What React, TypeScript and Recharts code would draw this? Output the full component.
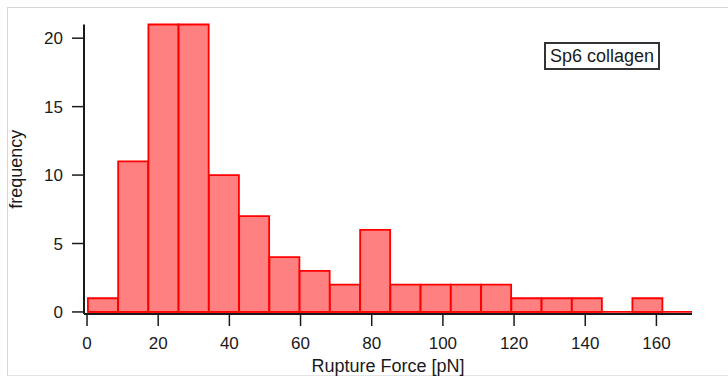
import { Bar, BarChart, ReferenceLine, XAxis, YAxis } from 'recharts';

// histogram bins (pN): bin centres, bin width 8.5
const binCenters = [
  4.5, 13, 21.5, 30, 38.5, 47, 55.5, 64, 72.5, 81, 89.5, 98, 106.5, 115, 123.5, 132, 140.5, 149, 157.5, 166,
];
const counts = [1, 11, 21, 21, 10, 7, 4, 3, 2, 6, 2, 2, 2, 2, 1, 1, 1, 0, 1, 0];
const xTicks = [0, 20, 40, 60, 80, 100, 120, 140, 160];
const yTicks = [0, 5, 10, 15, 20];

const data = binCenters.map((x, i) => ({ x, count: counts[i] }));

const font = '"Liberation Sans", Arial, Helvetica, sans-serif';
const ink = '#1a1a1a';

export default function App() {
  return (
    <div style={{ position: 'absolute', left: 0, top: 0, width: 728, height: 378, background: '#fff', fontFamily: font }}>
      <div
        style={{
          position: 'absolute',
          left: 7,
          top: 7,
          width: 721,
          height: 369,
          borderTop: '1px solid #d6d6d6',
          borderLeft: '1px solid #d6d6d6',
          borderBottom: '1px solid #e4e4e4',
          boxSizing: 'border-box',
        }}
      />
      <div style={{ position: 'absolute', left: 0, top: 0 }}>
        <BarChart
          width={728}
          height={378}
          data={data}
          margin={{ top: 24.5, right: 36, left: 0, bottom: 0 }}
          barCategoryGap={0}
          barGap={0}
        >
          <XAxis
            dataKey="x"
            type="number"
            domain={[-0.85, 170]}
            ticks={xTicks}
            height={64}
            tickSize={12}
            tickMargin={11}
            axisLine={{ stroke: ink, strokeWidth: 2 }}
            tickLine={{ stroke: ink, strokeWidth: 1.5 }}
            tick={{ fill: ink, fontSize: 17, fontFamily: font }}
            label={{
              value: 'Rupture Force [pN]',
              position: 'insideBottom',
              offset: 6,
              style: { fill: ink, fontSize: 18, fontFamily: font },
            }}
          />
          <YAxis
            type="number"
            domain={[-0.15, 21]}
            ticks={yTicks}
            width={84}
            tickSize={12}
            tickMargin={9}
            axisLine={{ stroke: ink, strokeWidth: 2 }}
            tickLine={{ stroke: ink, strokeWidth: 1.5 }}
            tick={{ fill: ink, fontSize: 17, fontFamily: font }}
            label={{
              value: 'frequency',
              angle: -90,
              position: 'insideLeft',
              offset: 16,
              style: { fill: ink, fontSize: 18, fontFamily: font, textAnchor: 'middle' },
            }}
          />
          <Bar dataKey="count" fill="#ff8080" stroke="#ff0000" strokeWidth={1.8} isAnimationActive={false} />
          <ReferenceLine
            segment={[
              { x: 0.25, y: 0 },
              { x: 170, y: 0 },
            ]}
            stroke="#ff0000"
            strokeWidth={1.8}
          />
        </BarChart>
      </div>
      <div
        style={{
          position: 'absolute',
          left: 544,
          top: 42,
          width: 116,
          height: 28,
          border: '2px solid #333',
          boxSizing: 'border-box',
          display: 'flex',
          alignItems: 'center',
          justifyContent: 'center',
          fontSize: 18,
          color: ink,
        }}
      >
        Sp6 collagen
      </div>
    </div>
  );
}
